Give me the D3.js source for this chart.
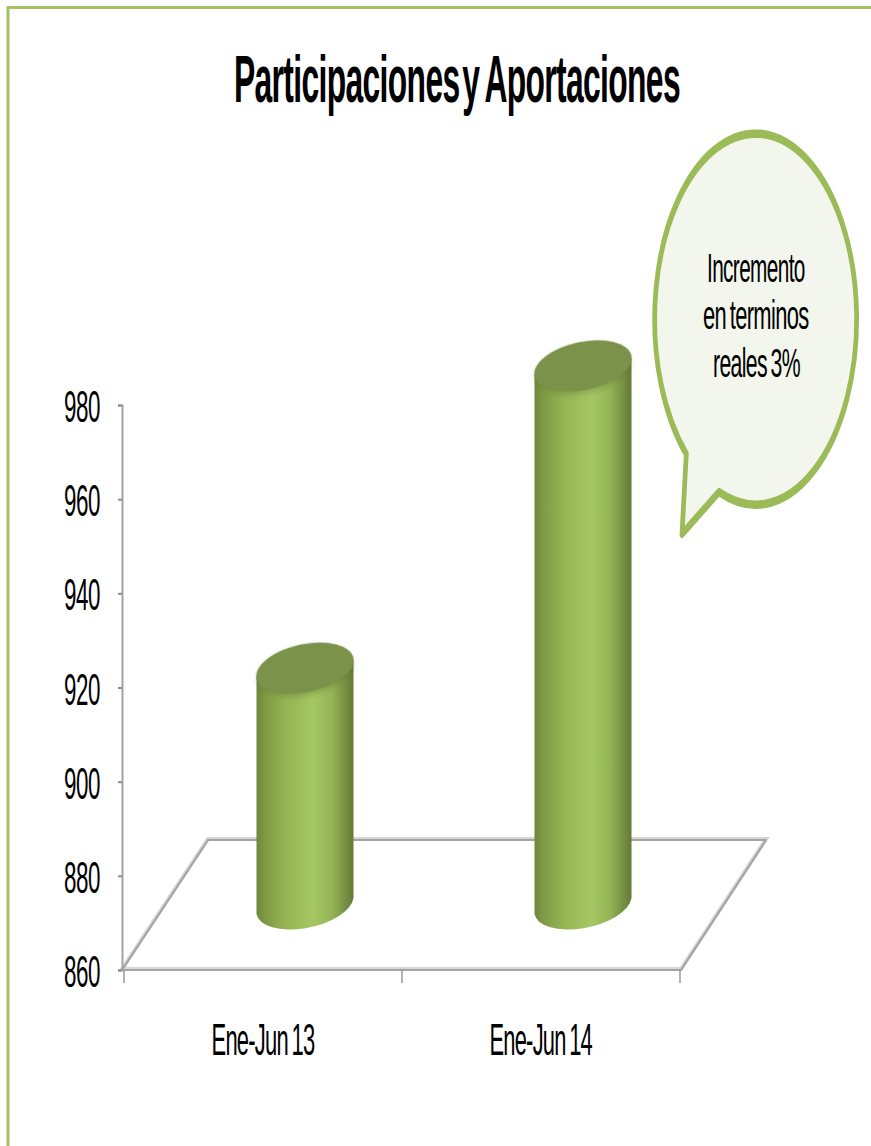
<!DOCTYPE html>
<html><head><meta charset="utf-8">
<script src="https://cdn.jsdelivr.net/npm/d3@7/dist/d3.min.js"></script>
<style>html,body{margin:0;padding:0;background:#fff}svg{display:block}text{font-family:"Liberation Sans",Arial,sans-serif;fill:#000}</style>
</head><body><div id="c"></div>
<script>
const categories = ["Ene-Jun 13", "Ene-Jun 14"];
const values = [910.5, 974.7];
const tickValues = [860, 880, 900, 920, 940, 960, 980];
const chartTitle = ["Participaciones ", "y Aportaciones"];
const calloutLines = ["Incremento", "en terminos", "reales 3%"];

const W = 871, H = 1146;
const svg = d3.select("#c").append("svg").attr("width", W).attr("height", H);
const defs = svg.append("defs");
const y = d3.scaleLinear().domain([860, 980]).range([970, 405]);
const x = d3.scaleBand().domain(categories).range([124, 680]);
const depthX = 42, depthY = 64, backX = 85, backY = 130;
const grey = "#a3a3a3";

// squeezes a text horizontally to the width it has in the picture
function squeeze(node, left, base, width) {
  const w = node.getBBox().width;
  d3.select(node).attr("x", 0).attr("y", 0)
    .attr("transform", `translate(${left},${base}) scale(${width / w},1)`);
}

// frame
svg.append("path").attr("d", "M8,1146V7.5H871").attr("fill", "none").attr("stroke", "#a5c263").attr("stroke-width", 3);

// gradient
const g = defs.append("linearGradient").attr("id", "body");
[[0,"#6d873a"],[0.1,"#7f9c46"],[0.3,"#95b453"],[0.58,"#a5c763"],[0.78,"#95b455"],[0.92,"#748f41"],[1,"#627b35"]]
  .forEach(s => g.append("stop").attr("offset", s[0]).attr("stop-color", s[1]));
defs.append("filter").attr("id", "soft").append("feGaussianBlur").attr("stdDeviation", 0.6);
defs.append("filter").attr("id", "soft2").append("feGaussianBlur").attr("stdDeviation", 3);

// floor
const fx0 = x.range()[0] - 2, fx1 = x.range()[1] + 1, fy = y(860);
const floorPath = `M${fx0},${fy}L${fx0 + backX + 1},${fy - backY}H${fx1 + backX}L${fx1},${fy}Z`;
svg.append("path").attr("d", floorPath).attr("fill", "none").attr("stroke", "#d6d6d6").attr("stroke-width", 4).attr("transform", "translate(0,-1)").attr("filter", "url(#soft)");
svg.append("path").attr("d", floorPath).attr("fill", "none").attr("stroke", grey).attr("stroke-width", 2).attr("stroke-linejoin", "round");

// axes
const yAxis = svg.append("g").attr("transform", "translate(122,0)")
  .call(d3.axisLeft(y).tickValues(tickValues).tickSize(4).tickPadding(0));
yAxis.select(".domain").attr("stroke", grey).attr("stroke-width", 2);
yAxis.selectAll(".tick line").attr("stroke", "#8c8c8c").attr("stroke-width", 2);
yAxis.selectAll(".tick text").remove();
svg.append("g").selectAll("text").data(tickValues).join("text")
  .attr("font-size", 45).attr("letter-spacing", "-0.02em").text(d => d)
  .each(function(d) { squeeze(this, 64, y(d) + 17, 36); });

const xAxis = svg.append("g").attr("transform", `translate(0,${fy})`)
  .call(d3.axisBottom(x).tickSize(13).tickFormat(""));
xAxis.select(".domain").remove();
xAxis.selectAll(".tick line").remove();
xAxis.selectAll(".edge").data([...categories.map(c => x(c)), x.range()[1]]).join("line").attr("class", "edge")
  .attr("x1", d => d).attr("x2", d => d).attr("y1", 0).attr("y2", 13)
  .attr("stroke", "#9a9a9a").attr("stroke-width", 1.5);
svg.append("g").selectAll("text").data(categories).join("text")
  .attr("font-size", 44).attr("letter-spacing", "-0.035em").attr("word-spacing", "-0.08em").text(c => c)
  .each(function(c) { squeeze(this, x(c) + x.bandwidth() / 2 - 51.5, 1055, 103); });

// bars
const rx = 49.5, ry = 24, rot = -12, halfW = 48.5, dy = 8;
const bars = svg.append("g").selectAll("g").data(categories.map((c, i) => ({c, v: values[i]}))).join("g");
const barX = d => x(d.c) + x.bandwidth() / 2 + depthX;
bars.append("path").attr("fill", "url(#body)").attr("filter", "url(#soft)").attr("d", d => {
  const cx = barX(d);
  const top = y(d.v) - depthY, bot = y(860) - depthY;
  return `M${cx - halfW},${top + dy}V${bot + dy}A${rx},${ry} ${rot} 0 0 ${cx + halfW},${bot - dy}V${top - dy}Z`;
});
bars.append("ellipse").attr("fill", "#55692c").attr("opacity", 0.35).attr("filter", "url(#soft2)")
  .attr("rx", rx - 2).attr("ry", ry)
  .attr("transform", d => `translate(${barX(d)},${y(d.v) - depthY + 3}) rotate(${rot})`);
bars.append("ellipse").attr("fill", "#7a9249").attr("filter", "url(#soft)")
  .attr("rx", rx).attr("ry", ry)
  .attr("transform", d => `translate(${barX(d)},${y(d.v) - depthY}) rotate(${rot})`);

// title: the first word gap is nearly closed in the picture
const t = svg.append("text").attr("font-size", 66).attr("font-weight", "bold").attr("letter-spacing", "-0.02em");
t.selectAll("tspan").data(chartTitle).join("tspan")
  .attr("word-spacing", (d, i) => i === 0 ? "-0.17em" : "-0.06em").text(d => d);
squeeze(t.node(), 234, 102, 446);

// callout: drawn wider than it is and squeezed, so its outline is thicker at top and bottom
const k = 0.56, ox = 755.5, oy = 319, orx = 101, ory = 185.5;
const px = v => (v - ox) / k;
svg.append("g").attr("transform", `translate(${ox},0) scale(${k},1)`).append("path")
  .attr("d", `M${px(686.3)},454A${orx / k},${ory} 0 1 1 ${px(719)},492L${px(682)},534L${px(686.3)},454Z`)
  .attr("fill", "#f2f6ec").attr("stroke", "#9bbb59").attr("stroke-width", 8.5).attr("stroke-linejoin", "round");
const ly = [282, 329, 377], lx = [707, 703, 713], lw = [98, 106, 87];
svg.append("g").selectAll("text").data(calloutLines).join("text")
  .attr("font-size", 41).attr("letter-spacing", "-0.03em").attr("word-spacing", "-0.08em").text(d => d)
  .each(function(d, i) { squeeze(this, lx[i], ly[i], lw[i]); });
</script></body></html>
